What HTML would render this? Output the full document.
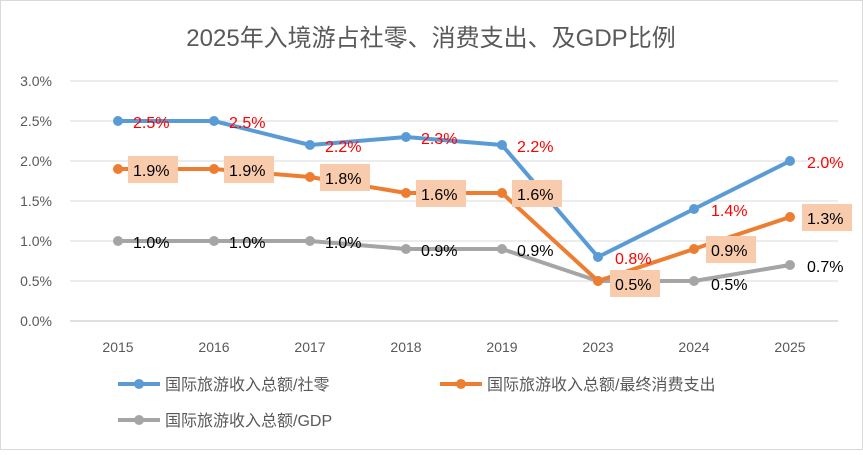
<!DOCTYPE html>
<html><head><meta charset="utf-8">
<style>
body{margin:0;background:#fff;}
svg text{font-family:"Liberation Sans","Noto Sans CJK SC",sans-serif;}
</style></head>
<body>
<svg id="chart" width="863" height="450" xmlns="http://www.w3.org/2000/svg">
<rect x="0.5" y="0.5" width="862" height="449" fill="#fff" stroke="#D9D9D9"/>
<text x="431" y="46" text-anchor="middle" font-size="24" fill="#595959">2025年入境游占社零、消费支出、及GDP比例</text>
<g id="grid"></g><g id="axes"></g><g id="series"></g><g id="labels"></g>
<g>
<g>
<line x1="118" y1="384" x2="160" y2="384" stroke="#5B9BD5" stroke-width="4"/><circle cx="139" cy="384" r="5" fill="#5B9BD5"/>
<text x="165" y="390" font-size="16" fill="#595959">国际旅游收入总额/社零</text></g>
<g>
<line x1="440" y1="384" x2="482" y2="384" stroke="#ED7D31" stroke-width="4"/><circle cx="461" cy="384" r="5" fill="#ED7D31"/>
<text x="487" y="390" font-size="16" fill="#595959">国际旅游收入总额/最终消费支出</text></g>
<g>
<line x1="118" y1="420" x2="160" y2="420" stroke="#A5A5A5" stroke-width="4"/><circle cx="139" cy="420" r="5" fill="#A5A5A5"/>
<text x="165" y="426" font-size="16" fill="#595959">国际旅游收入总额/GDP</text></g>
</g>
</svg>
<script>
const categories=["2015","2016","2017","2018","2019","2023","2024","2025"];
const retail=[2.5,2.5,2.2,2.3,2.2,0.8,1.4,2.0];
const consumption=[1.9,1.9,1.8,1.6,1.6,0.5,0.9,1.3];
const gdp=[1.0,1.0,1.0,0.9,0.9,0.5,0.5,0.7];
const yTicks=[0,0.5,1.0,1.5,2.0,2.5,3.0];
const NS="http://www.w3.org/2000/svg";
const L=70,W=768,Y0=321,YH=240,YMAX=3;
const x=i=>L+W/categories.length*(i+0.5);
const y=v=>Y0-v/YMAX*YH;
function mk(t,a,p){const e=document.createElementNS(NS,t);for(const k in a)e.setAttribute(k,a[k]);p.appendChild(e);return e;}
const grid=document.getElementById('grid'),axes=document.getElementById('axes'),ser=document.getElementById('series'),lab=document.getElementById('labels');
yTicks.forEach(t=>{
 const g=mk('line',{x1:L,x2:L+W,y1:y(t),y2:y(t),stroke:t===0?'#BFBFBF':'#D9D9D9','stroke-width':1},grid);
 
 
 const tx=mk('text',{x:52,y:y(t)+5,'text-anchor':'end','font-size':14,fill:'#595959'},axes);
 tx.textContent=t.toFixed(1)+'%';
 
 
});
categories.forEach((c,i)=>{
 const tx=mk('text',{x:x(i),y:352,'text-anchor':'middle','font-size':14,fill:'#595959'},axes);
 tx.textContent=c;
 
 
});
function draw(vals,color,name){
 const p=mk('polyline',{points:vals.map((v,i)=>x(i)+','+y(v)).join(' '),fill:'none',stroke:color,'stroke-width':4,'stroke-linejoin':'round'},ser);
 
 
 vals.forEach((v,i)=>{
  const c=mk('circle',{cx:x(i),cy:y(v),r:5,fill:color},ser);
  
  
 });
}
draw(gdp,'#A5A5A5','gdp');
draw(consumption,'#ED7D31','consumption');
draw(retail,'#5B9BD5','retail');
function label(i,v,dx,dy,color,box,name){
 const tx0=x(i)+dx,ty=y(v)+dy;
 if(box){
  const r=mk('rect',{x:tx0-5,y:ty-20,width:50,height:27,fill:'#F8CBAD'},lab);
  
  
 }
 const t=mk('text',{x:tx0,y:ty,'font-size':16,fill:color},lab);
 t.textContent=v.toFixed(1)+'%';
 
 
}
gdp.forEach((v,i)=>{ if(i===5)return; label(i,v,i>=6?17:15,i===6?9:7,'#000',false,'gdp');});
consumption.forEach((v,i)=>{ label(i,v,i===5?17:(i>=6?17:15),i===5?9:7,'#000',true,'consumption');});
retail.forEach((v,i)=>{ label(i,v,i>=5?17:15,7,'#FF0000',false,'retail');});
</script>
</body></html>
